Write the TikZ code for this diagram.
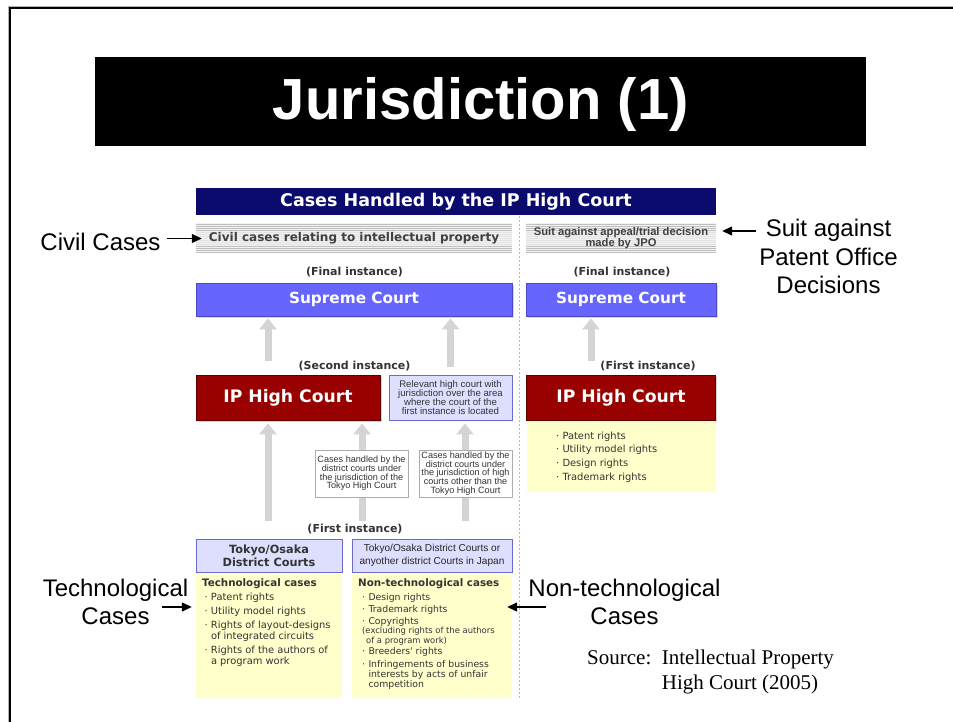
\documentclass[tikz,border=0pt]{standalone}
\usepackage{fontspec}
\setmainfont{DejaVu Sans}
\newfontfamily\dvs{DejaVu Sans}
\newfontfamily\arl{Liberation Sans}
\newfontfamily\srf{Liberation Serif}
\usetikzlibrary{arrows.meta,shadows,backgrounds}
\newcommand\fsz[2]{\fontsize{#1pt}{#2pt}\selectfont}
\newcommand\bul{\makebox[6.3pt][l]{·}}
\newcommand\cnt{\hspace*{6.3pt}}
\definecolor{navy}{HTML}{0B0B6E}
\definecolor{supblue}{HTML}{6666FF}
\definecolor{supborder}{HTML}{4A4AC8}
\definecolor{ipred}{HTML}{990000}
\definecolor{ipborder}{HTML}{5A0000}
\definecolor{lav}{HTML}{DEDEFF}
\definecolor{lavborder}{HTML}{6A6AD0}
\definecolor{paleyel}{HTML}{FFFFCC}
\definecolor{arrgray}{HTML}{D4D4D4}
\definecolor{txtgray}{HTML}{333333}
\definecolor{bandgray}{HTML}{F2F2F2}
\AtBeginDocument{\lineskiplimit=-20pt}
\begin{document}
\begin{tikzpicture}[x=1pt,y=-1pt,
  every node/.style={inner sep=0pt},
  sup/.style={fill=supblue, draw=supborder, line width=0.8pt, text=white, font=\dvs\bfseries\fsz{15.3}{18}, drop shadow={opacity=0.3,shadow xshift=1.5pt,shadow yshift=-1.5pt}},
  ipr/.style={fill=ipred, draw=ipborder, line width=0.8pt, text=white, font=\dvs\bfseries\fsz{17.2}{20}, drop shadow={opacity=0.35,shadow xshift=1.5pt,shadow yshift=-1.5pt}},
  lavbox/.style={fill=lav, draw=lavborder, line width=0.9pt, text=txtgray, align=center},
  yel/.style={fill=paleyel},
  wbox/.style={fill=white, draw=gray!65, line width=0.6pt, text=txtgray, font=\arl\fsz{9.1}{8.6}, align=center},
  inst/.style={fill=white, inner xsep=2pt, inner ysep=1pt, font=\dvs\bfseries\fsz{11}{13}, text=txtgray},
  band/.style={minimum height=30pt, fill=bandgray, path picture={
    \foreach \k in {0,...,14}{
      \pgfmathtruncatemacro\lc{(\k<4 || \k>10) ? 50 : 22}
      \draw[gray!\lc, line width=0.7pt] ([yshift={-(2*\k+1)*1pt}]path picture bounding box.north west) -- ([yshift={-(2*\k+1)*1pt}]path picture bounding box.north east);
    }}},
  yeltxt/.style={anchor=north west, align=left, text=txtgray},
  garrow/.style={draw=arrgray, line width=7pt, -{Triangle[length=11pt,width=17pt]}},
  blk/.style={draw=black, line width=1.3pt, -{Triangle[length=10pt,width=9pt]}},
  outer/.style={font=\arl\fsz{24}{28.5}, align=center, text=black}
]
\useasboundingbox (0,0) rectangle (953,722);
\begin{pgfonlayer}{background}
\fill[white] (0,0) rectangle (953,722);
\draw[gray!60, line width=1pt] (8,722) -- (8,7) -- (953,7);
\draw[black, line width=2pt] (9.5,722) -- (9.5,8.5) -- (953,8.5);
\end{pgfonlayer}

% title
\node[fill=black, minimum width=771pt, minimum height=89pt, text height=48pt, text depth=12pt, text=white, font=\arl\bfseries\fsz{58}{60}] (title) at (480.8,101.5) {Jurisdiction (1)};

% header
\node[fill=navy, minimum width=520pt, minimum height=27pt, text=white, font=\dvs\bfseries\fsz{17.5}{20}] (hdr) at (456,201.5) {Cases Handled by the IP High Court};

% bands
\node[band, minimum width=316pt, text=black!75, font=\dvs\bfseries\fsz{12}{14}] (civil) at (354,238) {Civil cases relating to intellectual property};
\node[band, minimum width=190pt, text=black!75, font=\arl\bfseries\fsz{11.2}{11.5}, align=center] (jpo) at (621,238) {Suit against appeal/trial decision\\made by JPO};

% divider
\draw[gray!55, line width=0.8pt, dash pattern=on 2pt off 2pt] (519,216) -- (519,700);

% final instance
\node[inst] (fin1) at (354.5,272) {(Final instance)};
\node[inst] (fin2) at (622,272) {(Final instance)};
\node[sup, minimum width=316pt, minimum height=33pt] (sc1) at (354,299.5) {Supreme Court};
\node[sup, minimum width=190pt, minimum height=33pt] (sc2) at (621,299.5) {Supreme Court};

% second instance
\node[inst] (sec) at (354.5,366) {(Second instance)};
\node[inst] (fir2) at (648,366) {(First instance)};
\node[ipr, minimum width=184pt, minimum height=45pt] (iph1) at (288,397.5) {IP High Court};
\node[lavbox, minimum width=123pt, minimum height=45pt, font=\arl\fsz{9.6}{9}] (rel) at (450.5,397.5) {Relevant high court with\\jurisdiction over the area\\where the court of the\\first instance is located};
\node[ipr, minimum width=189pt, minimum height=45pt] (iph2) at (621,397.5) {IP High Court};
\node[yel, minimum width=189pt, minimum height=71pt, anchor=north] (yr) at (iph2.south) {};
\node[yeltxt, font=\dvs\fsz{9.9}{13.7}] (yrt) at (556,431.5) {\bul Patent rights\\ \bul Utility model rights\\ \bul Design rights\\ \bul Trademark rights};

% district level
\node[inst] (fir1) at (355,529.5) {(First instance)};
\node[lavbox, minimum width=146pt, minimum height=33pt, font=\dvs\bfseries\fsz{11.3}{12.6}] (td) at (269,555.5) {Tokyo/Osaka\\District Courts};
\node[lavbox, minimum width=160pt, minimum height=33pt, font=\arl\fsz{10.1}{12.6}, text=black!85] (rd) at (432,555.5) {Tokyo/Osaka District Courts or\\anyother district Courts in Japan};
\node[yel, minimum width=146pt, minimum height=125pt, anchor=north] (yl) at (td.south) {};
\node[yel, minimum width=160pt, minimum height=125pt, anchor=north] (yr2) at (rd.south) {};
\node[yeltxt, font=\dvs\fsz{9.9}{11}] (ylt) at (202,578) {{\fsz{10.3}{11}\bfseries Technological cases}\\[3.3pt]
\hspace*{2.5pt}\bul Patent rights\\[3pt]
\hspace*{2.5pt}\bul Utility model rights\\[3pt]
\hspace*{2.5pt}\bul Rights of layout-designs\\
\hspace*{2.5pt}\cnt of integrated circuits\\[3pt]
\hspace*{2.5pt}\bul Rights of the authors of\\
\hspace*{2.5pt}\cnt a program work};
\node[yeltxt, font=\dvs\fsz{9.3}{10}] (yrt2) at (358,578) {{\fsz{10.3}{11}\bfseries Non-technological cases}\\[4.3pt]
\hspace*{4pt}\bul Design rights\\[2.4pt]
\hspace*{4pt}\bul Trademark rights\\[1.6pt]
\hspace*{4pt}\bul Copyrights\\[-0.6pt]
\hspace*{4pt}{\fsz{8.4}{9}(excluding rights of the authors}\\[-0.4pt]
\hspace*{8pt}{\fsz{8.4}{9}of a program work)}\\[1pt]
\hspace*{4pt}\bul Breeders' rights\\[3.4pt]
\hspace*{4pt}\bul Infringements of business\\
\hspace*{4pt}\cnt interests by acts of unfair\\
\hspace*{4pt}\cnt competition};

% small white boxes
\node[wbox, minimum width=93pt, minimum height=47pt] (sb1) at (361.5,473.5) {Cases handled by the\\district courts under\\the jurisdiction of the\\Tokyo High Court};
\node[wbox, minimum width=93pt, minimum height=47pt] (sb2) at (465.5,473.5) {Cases handled by the\\district courts under\\the jurisdiction of high\\courts other than the\\Tokyo High Court};

% gray arrows (behind)
\begin{pgfonlayer}{background}
\draw[garrow] ([xshift=-20pt,yshift=14pt]iph1.north) -- ([xshift=-86pt,yshift=-2pt]sc1.south);
\draw[garrow] ([yshift=8pt]rel.north) -- ([xshift=96.5pt,yshift=-2pt]sc1.south);
\draw[garrow] ([xshift=-30pt,yshift=14pt]iph2.north) -- ([xshift=-30pt,yshift=-2pt]sc2.south);
\draw[garrow] ([xshift=-1pt,yshift=18pt]td.north) -- ([xshift=-20pt,yshift=-3pt]iph1.south);
\draw[garrow] ([xshift=-70pt,yshift=18pt]rd.north) -- ([xshift=74pt,yshift=-3pt]iph1.south);
\draw[garrow] ([xshift=33pt,yshift=18pt]rd.north) -- ([xshift=14.5pt,yshift=-3pt]rel.south);
\end{pgfonlayer}

% outer labels
\node[outer] (civl) at (100.5,242) {Civil Cases};
\node[outer] (suit) at (828.5,256.5) {Suit against\\Patent Office\\Decisions};
\node[outer] (tech) at (115.5,602) {Technological\\Cases};
\node[outer] (ntech) at (624.5,602) {Non-technological\\Cases};
\node[anchor=west, align=left, font=\srf\fsz{21}{25}] (src) at (587,671.5) {Source:\ \ Intellectual Property\\ \phantom{Source:\ \ }High Court (2005)};

% black arrows
\coordinate (civarr) at (167,238.5);
\draw[blk, shorten >=-6pt] (civarr) -- (civarr -| civil.west);
\coordinate (suitarr) at (756,231);
\draw[blk, shorten >=6pt] (suitarr) -- (suitarr -| jpo.east);
\coordinate (techarr) at (162,607);
\draw[blk, shorten >=4pt] (techarr) -- (techarr -| yl.west);
\coordinate (ntarr) at (546,607);
\draw[blk, shorten >=-5pt] (ntarr) -- (ntarr -| yr2.east);
\end{tikzpicture}
\end{document}
